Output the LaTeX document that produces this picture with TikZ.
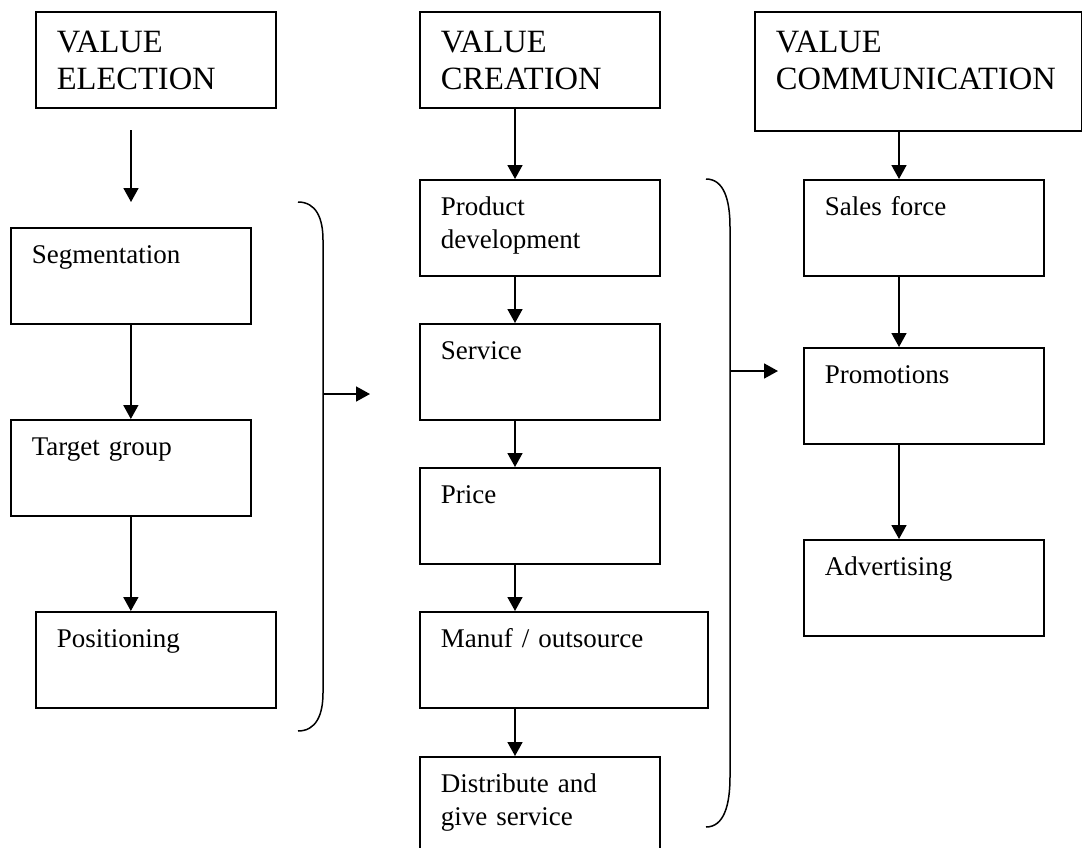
\documentclass[tikz,border=0pt]{standalone}
\usepackage{fontspec}
\setmainfont{Liberation Serif}
\usetikzlibrary{arrows.meta,calc}
\begin{document}
\begin{tikzpicture}[x=1pt,y=-1pt,
  every path/.style={line width=1.7pt},
  stepbox/.style={draw, line width=1.7pt, rectangle, anchor=north west, inner xsep=21pt, inner ysep=0pt,
     text width=198pt, align=left, text height=36pt, text depth=60pt,
     font=\fontsize{27}{33}\selectfont},
  headbox/.style={draw, line width=1.7pt, rectangle, anchor=north west, inner xsep=21pt, inner ysep=0pt,
     text width=198pt, align=left, text height=41pt, text depth=55pt,
     font=\fontsize{32.5}{37}\selectfont},
  arr/.style={-{Triangle[width=15pt,length=14pt]}, line width=1.7pt},
  brace/.style={line width=1.5pt}]
\useasboundingbox (0,0) rectangle (1082,847);

% column 1
\node[headbox] (elec) at (35,11) {VALUE\\ELECTION};
\node[stepbox] (seg) at (10,227) {Segmentation};
\node[stepbox] (tg) at (10,419) {Target group};
\node[stepbox] (pos) at (35,611) {Positioning};
\coordinate (a1s) at (131,130);
\coordinate (a1e) at (131,202);
\draw[arr] (a1s) -- (a1e);
\draw[arr] (seg.south) -- (tg.north);
\draw[arr] (tg.south) -- (tg.south |- pos.north);

% brace 1
\coordinate (b1t) at (298,202);
\coordinate (b1b) at (298,731);
\coordinate (b1m) at (323,394);
\coordinate (b1a) at (370,394);
\draw[brace] (b1t) .. controls (316,202) and (323,218) .. (323,240) -- (323,693)
   .. controls (323,715) and (316,731) .. (b1b);
\draw[arr] (b1m) -- (b1a);

% column 2
\node[headbox] (crea) at (419,11) {VALUE\\CREATION};
\node[stepbox] (pd) at (419,179) {Product\\development};
\node[stepbox] (sv) at (419,323) {Service};
\node[stepbox] (pr) at (419,467) {Price};
\node[stepbox, text width=246pt] (mo) at (419,611) {Manuf / outsource};
\node[stepbox] (ds) at (419,756) {Distribute and\\give service};
\draw[arr] ($(crea.south west)+(96,0)$) -- ($(pd.north west)+(96,0)$);
\draw[arr] ($(pd.south west)+(96,0)$) -- ($(sv.north west)+(96,0)$);
\draw[arr] ($(sv.south west)+(96,0)$) -- ($(pr.north west)+(96,0)$);
\draw[arr] ($(pr.south west)+(96,0)$) -- ($(mo.north west)+(96,0)$);
\draw[arr] ($(mo.south west)+(96,0)$) -- ($(ds.north west)+(96,0)$);

% brace 2
\coordinate (b2t) at (706,179);
\coordinate (b2b) at (706,827);
\coordinate (b2m) at (730,371);
\coordinate (b2a) at (778,371);
\draw[brace] (b2t) .. controls (724,179) and (730,200) .. (730,227) -- (730,777)
   .. controls (730,805) and (724,827) .. (b2b);
\draw[arr] (b2m) -- (b2a);

% column 3
\node[headbox, text width=285pt, text depth=78pt] (comm) at (754,11) {VALUE\\COMMUNICATION};
\node[stepbox] (sf) at (803,179) {Sales force};
\node[stepbox] (pm) at (803,347) {Promotions};
\node[stepbox] (ad) at (803,539) {Advertising};
\draw[arr] ($(comm.south west)+(145,0)$) -- ($(sf.north west)+(96,0)$);
\draw[arr] ($(sf.south west)+(96,0)$) -- ($(pm.north west)+(96,0)$);
\draw[arr] ($(pm.south west)+(96,0)$) -- ($(ad.north west)+(96,0)$);
\end{tikzpicture}
\end{document}
